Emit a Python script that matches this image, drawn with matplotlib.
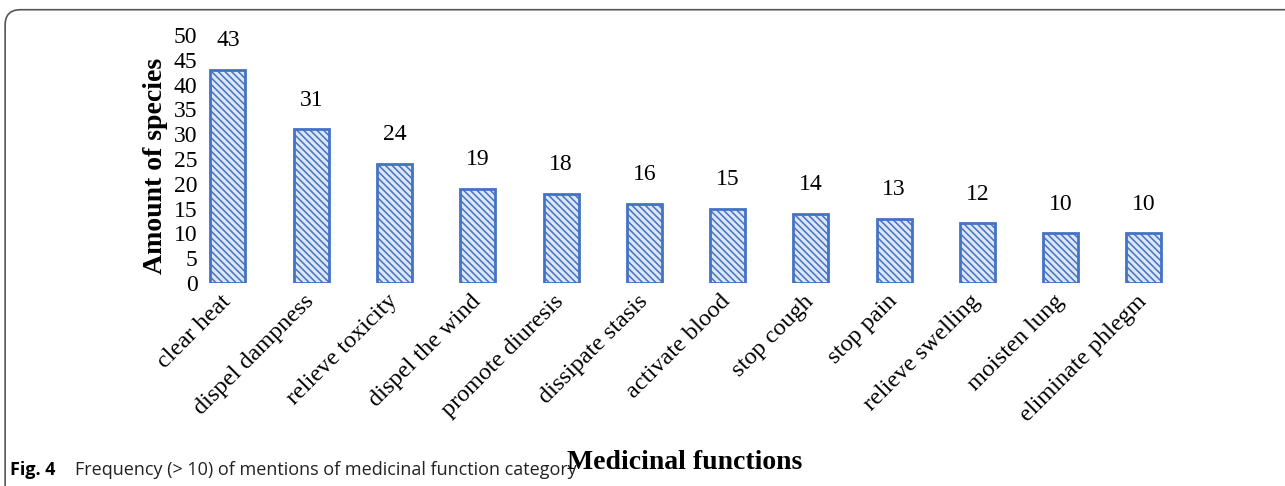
import matplotlib.pyplot as plt
from matplotlib.patches import FancyBboxPatch

categories = ['clear heat', 'dispel dampness', 'relieve toxicity', 'dispel the wind',
              'promote diuresis', 'dissipate stasis', 'activate blood', 'stop cough',
              'stop pain', 'relieve swelling', 'moisten lung', 'eliminate phlegm']
counts = [43, 31, 24, 19, 18, 16, 15, 14, 13, 12, 10, 10]
yticks = list(range(0, 51, 5))

serif = 'Liberation Serif'
plt.rcParams['hatch.color'] = '#2a4a94'
plt.rcParams['hatch.linewidth'] = 1.1

fig = plt.figure(figsize=(12.85, 4.86), dpi=100)
ax = fig.add_axes([0.1547, 0.4177, 0.7679, 0.5103])

x = list(range(len(categories)))
ax.bar(x, counts, width=0.42, color='#dce6f5', edgecolor='#4472c4',
       linewidth=2, hatch='\\\\\\\\\\')

for xi, c in zip(x, counts):
    ax.annotate(str(c), (xi, c), xytext=(0, 21), textcoords='offset points',
                ha='center', va='center', fontsize=17, family=serif,
                annotation_clip=False)

ax.set_xlim(-0.35, len(categories) - 0.5)
ax.set_ylim(0, 50)
ax.set_yticks(yticks)
ax.set_yticklabels([str(t) for t in yticks], family=serif, fontsize=17)
ax.set_xticks(x)
ax.set_xticklabels(categories, rotation=45, ha='right', va='center',
                   rotation_mode='anchor', family=serif, fontsize=17.5)
ax.tick_params(axis='both', length=0)
ax.tick_params(axis='x', pad=11)
ax.tick_params(axis='y', pad=1)
for s in ax.spines.values():
    s.set_visible(False)

ax.set_ylabel('Amount of species', family=serif, fontweight='bold', fontsize=20)
ax.yaxis.set_label_coords(-0.031, 0.47)
fig.text(0.533, 0.049, 'Medicinal functions', family=serif,
         fontweight='bold', fontsize=20, ha='center', va='center')

cap_font = 'Open Sans'
fig.text(0.008, 0.033, 'Fig. 4', family=cap_font, fontweight='bold',
         fontsize=13, ha='left', va='center')
fig.text(0.058, 0.033, 'Frequency (> 10) of mentions of medicinal function category',
         family=cap_font, fontsize=13, ha='left', va='center', color='#222222')

frame = FancyBboxPatch((0.004, -0.2), 1.2, 1.18, boxstyle='round,pad=0,rounding_size=0.012',
                       transform=fig.transFigure, fill=False, edgecolor='#555555',
                       linewidth=1.2, mutation_aspect=2.6)
fig.patches.append(frame)

fig.savefig('out.png', dpi=100)
